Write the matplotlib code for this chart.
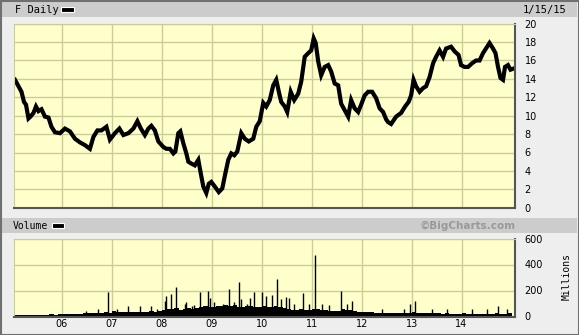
import matplotlib
matplotlib.use("Agg")
import matplotlib.pyplot as plt
from matplotlib.patches import Rectangle

W, H = 579, 335

# price (decimal year, close)
price_t = [2005.06, 2005.13, 2005.19, 2005.24, 2005.28, 2005.33, 2005.37, 2005.43, 2005.48, 2005.53,
           2005.59, 2005.66, 2005.73, 2005.79, 2005.86, 2005.96, 2006.06, 2006.16, 2006.26, 2006.36,
           2006.46, 2006.56, 2006.63, 2006.71, 2006.79, 2006.89, 2006.96, 2007.06, 2007.15, 2007.23,
           2007.33, 2007.43, 2007.51, 2007.58, 2007.66, 2007.73, 2007.79, 2007.86, 2007.93, 2008.03,
           2008.09, 2008.16, 2008.23, 2008.27, 2008.33, 2008.37, 2008.43, 2008.49, 2008.53, 2008.59,
           2008.66, 2008.73, 2008.78, 2008.83, 2008.89, 2008.94, 2008.99, 2009.06, 2009.14, 2009.21,
           2009.27, 2009.33, 2009.39, 2009.45, 2009.51, 2009.59, 2009.66, 2009.74, 2009.83, 2009.89,
           2009.96, 2010.03, 2010.09, 2010.16, 2010.23, 2010.29, 2010.35, 2010.39, 2010.46, 2010.51,
           2010.58, 2010.65, 2010.73, 2010.79, 2010.86, 2010.93, 2010.99, 2011.04, 2011.08, 2011.13,
           2011.19, 2011.26, 2011.33, 2011.39, 2011.46, 2011.53, 2011.59, 2011.66, 2011.73, 2011.79,
           2011.86, 2011.93, 2011.99, 2012.06, 2012.13, 2012.21, 2012.29, 2012.36, 2012.43, 2012.49,
           2012.53, 2012.59, 2012.69, 2012.79, 2012.87, 2012.94, 2012.99, 2013.04, 2013.09, 2013.16,
           2013.23, 2013.29, 2013.36, 2013.43, 2013.49, 2013.56, 2013.63, 2013.69, 2013.79, 2013.86,
           2013.94, 2013.99, 2014.06, 2014.13, 2014.21, 2014.29, 2014.36, 2014.43, 2014.49, 2014.56,
           2014.63, 2014.68, 2014.73, 2014.78, 2014.83, 2014.87, 2014.93, 2014.98, 2015.03]
price_v = [13.9, 13.2, 12.6, 11.5, 11.2, 9.7, 9.9, 10.3, 11.0, 10.5,
           10.7, 9.9, 9.8, 8.8, 8.2, 8.1, 8.6, 8.3, 7.5, 7.1,
           6.8, 6.4, 7.7, 8.4, 8.4, 8.8, 7.4, 8.1, 8.6, 7.9,
           8.1, 8.6, 9.4, 8.6, 7.9, 8.6, 8.9, 8.4, 7.2, 6.6,
           6.4, 6.4, 5.9, 6.1, 8.1, 8.3, 7.0, 5.9, 5.0, 4.8,
           4.6, 5.2, 3.7, 2.3, 1.6, 2.6, 2.8, 2.3, 1.7, 2.1,
           3.7, 5.2, 5.9, 5.7, 6.1, 8.1, 7.5, 7.2, 7.5, 8.8,
           9.4, 11.4, 11.0, 11.7, 13.3, 13.9, 12.4, 11.5, 11.0, 10.4,
           12.6, 11.7, 12.4, 13.7, 16.4, 16.8, 17.1, 18.4, 17.9, 15.9,
           14.4, 15.3, 15.5, 14.8, 13.5, 13.3, 11.3, 10.6, 9.9, 11.7,
           10.8, 10.4, 11.2, 12.2, 12.6, 12.6, 11.9, 10.8, 10.4, 9.6,
           9.3, 9.1, 9.9, 10.3, 11.0, 11.5, 12.2, 13.9, 13.2, 12.6,
           13.0, 13.2, 14.2, 15.7, 16.4, 17.1, 16.4, 17.3, 17.5, 17.0,
           16.6, 15.5, 15.3, 15.3, 15.7, 16.0, 16.0, 16.8, 17.3, 17.9,
           17.3, 16.8, 15.3, 14.1, 13.9, 15.3, 15.5, 15.0, 15.1]

# volume, millions: monthly typical level, Jan 2005 .. Jan 2015
vol_month_start = [2005.0 + i / 12 for i in range(121)]
vol_base = [12, 12, 13, 12, 14, 14, 13, 12, 14, 16, 15, 16,
            18, 20, 18, 20, 22, 24, 28, 26, 24, 30, 32, 28,
            40, 36, 34, 38, 34, 32, 36, 38, 34, 40, 38, 42,
            48, 55, 60, 62, 50, 58, 62, 58, 65, 75, 80, 72,
            75, 82, 78, 85, 80, 88, 75, 70, 78, 82, 75, 70,
            78, 70, 75, 80, 70, 62, 55, 52, 50, 55, 52, 48,
            60, 55, 52, 48, 45, 42, 45, 55, 52, 48, 42, 38,
            35, 34, 32, 30, 28, 28, 28, 27, 25, 26, 26, 30,
            34, 30, 28, 26, 25, 24, 24, 22, 24, 22, 22, 22,
            25, 22, 22, 21, 20, 20, 20, 21, 25, 22, 22, 24,
            22]

# volume spikes (decimal year, millions)
spike_t = [2006.49, 2006.73, 2006.93, 2007.10, 2007.33, 2007.56, 2007.79, 2007.90, 2008.06, 2008.09,
           2008.19, 2008.29, 2008.46, 2008.49, 2008.60, 2008.65, 2008.77, 2008.93, 2008.96, 2009.05,
           2009.23, 2009.35, 2009.45, 2009.55, 2009.59, 2009.70, 2009.77, 2009.85, 2010.00, 2010.08,
           2010.21, 2010.31, 2010.38, 2010.48, 2010.55, 2010.65, 2010.83, 2010.95, 2011.07, 2011.20,
           2011.35, 2011.59, 2011.70, 2011.81, 2012.40, 2012.85, 2012.97, 2013.07, 2013.40, 2013.70,
           2014.20, 2014.50, 2014.72, 2014.90]
spike_v = [46, 54, 190, 60, 77, 79, 79, 60, 123, 161,
           170, 225, 97, 115, 80, 90, 190, 195, 140, 110,
           97, 215, 110, 265, 136, 100, 146, 190, 190, 161,
           165, 285, 136, 148, 143, 100, 180, 95, 475, 100,
           90, 195, 100, 122, 60, 60, 95, 120, 55, 60,
           55, 60, 80, 60]

years = [2006, 2007, 2008, 2009, 2010, 2011, 2012, 2013, 2014]
year_labels = ["06", "07", "08", "09", "10", "11", "12", "13", "14"]
price_ticks = list(range(0, 21, 2))
vol_ticks = [0, 200, 400, 600]

BG = "#eeeeee"
BAR = "#cccccc"
PLOT = "#ffffcc"
GRID = "#cccc99"

fig = plt.figure(figsize=(W / 100, H / 100), dpi=100)
fig.patch.set_facecolor(BG)


def fx(x):
    return x / W


def fy(y):
    return 1 - y / H


def rect(x0, y0, x1, y1, **kw):
    fig.patches.append(Rectangle((fx(x0), fy(y1)), fx(x1 - x0), (y1 - y0) / H,
                                 transform=fig.transFigure, **kw))


# header bars
rect(2, 2, 577, 17, facecolor=BAR, edgecolor="none")
rect(2, 218, 577, 233, facecolor=BAR, edgecolor="none")
rect(0.5, 0.5, 578.5, 334.5, facecolor="none", edgecolor="#707070", linewidth=1.5)

xmin, xmax = 2005.04, 2015.07


def style(ax):
    ax.set_facecolor(PLOT)
    ax.set_xlim(xmin, xmax)
    ax.set_xticks(years)
    ax.grid(True, color=GRID, linewidth=1.0)
    ax.set_axisbelow(True)
    ax.yaxis.tick_right()
    ax.tick_params(length=0, labelsize=7, colors="black")
    ax.tick_params(axis="y", pad=7)
    ax.tick_params(axis="x", pad=2)
    for s in ["left", "top"]:
        ax.spines[s].set_color(GRID)
    for s in ["right", "bottom"]:
        ax.spines[s].set_color("#555555")
        ax.spines[s].set_linewidth(1.5)


# price panel
ax1 = fig.add_axes([fx(14), fy(207.7), fx(501), 184 / H])
style(ax1)
ax1.set_ylim(0, 20)
ax1.set_yticks(price_ticks)
ax1.set_yticklabels([str(v) for v in price_ticks])
for lab in ax1.get_yticklabels():
    lab.set_horizontalalignment("left")
ax1.set_xticklabels([])
ax1.plot(price_t, price_v, color="black", linewidth=3.0, solid_joinstyle="miter")

# volume panel
ax2 = fig.add_axes([fx(14), fy(316.5), fx(501), 78 / H])
style(ax2)
ax2.set_ylim(0, 600)
ax2.set_yticks(vol_ticks)
ax2.set_xticklabels(year_labels)
ax2.fill_between(vol_month_start, vol_base, step="post", color="black", linewidth=0)
ax2.vlines(spike_t, 0, spike_v, color="black", linewidth=1.0)

# texts
mono = "DejaVu Sans Mono"
fig.text(fx(15), fy(10), "F Daily", family=mono, fontsize=7.5, va="center")
rect(61, 7, 74, 12, facecolor="black", edgecolor="white", linewidth=0.8)
fig.text(fx(566), fy(10), "1/15/15", family=mono, fontsize=7.5, va="center", ha="right")
fig.text(fx(13), fy(226), "Volume", family=mono, fontsize=7, va="center")
rect(52, 223, 64, 228, facecolor="black", edgecolor="white", linewidth=0.8)
fig.text(fx(516), fy(226), "\u00a9BigCharts.com", fontsize=7.5, fontweight="bold",
         color="#999999", va="center", ha="right")
fig.text(fx(567), fy(276), "Millions", family=mono, fontsize=7, rotation=90,
         va="center", ha="center")

fig.savefig("out.png", dpi=100, facecolor=BG)
